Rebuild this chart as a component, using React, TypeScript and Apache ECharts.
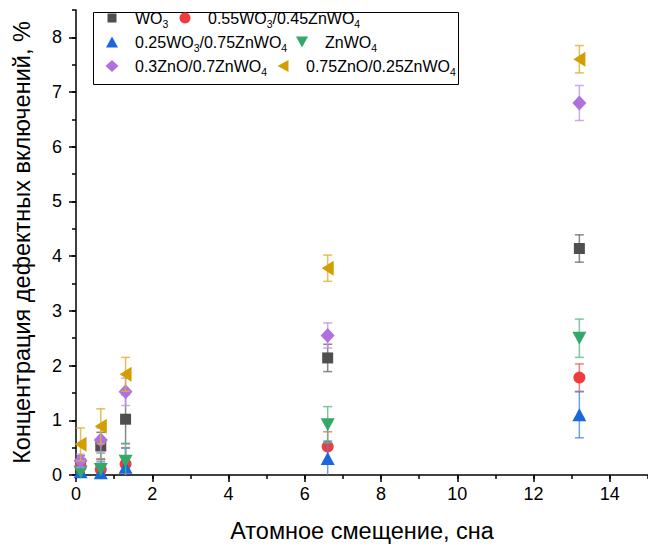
import React, { useEffect, useRef } from 'react';
import * as echarts from 'echarts';

const xValues = [0.12, 0.65, 1.3, 6.6, 13.2];
const seriesNames = ['WO3', '0.55WO3/0.45ZnWO4', '0.25WO3/0.75ZnWO4', 'ZnWO4', '0.3ZnO/0.7ZnWO4', '0.75ZnO/0.25ZnWO4'];
const wo3Y = [0.2, 0.53, 1.02, 2.14, 4.14];
const wo3Err = [0.15, 0.25, 0.45, 0.25, 0.25];
const znwo55Y = [0.15, 0.1, 0.2, 0.52, 1.78];
const znwo55Err = [0.12, 0.2, 0.3, 0.27, 0.25];
const znwo25Y = [0.06, 0.04, 0.14, 0.3, 1.1];
const znwo25Err = [0.1, 0.2, 0.35, 0.32, 0.42];
const znwo4Y = [0.05, 0.1, 0.25, 0.92, 2.5];
const znwo4Err = [0.2, 0.3, 0.33, 0.33, 0.35];
const zno3Y = [0.26, 0.64, 1.52, 2.55, 6.8];
const zno3Err = [0.12, 0.22, 0.25, 0.23, 0.32];
const zno75Y = [0.56, 0.89, 1.84, 3.78, 7.6];
const zno75Err = [0.3, 0.32, 0.31, 0.24, 0.25];
const xTickLabels = [0, 2, 4, 6, 8, 10, 12, 14];
const yTickLabels = [0, 1, 2, 3, 4, 5, 6, 7, 8];

const FONT = '"Liberation Sans", Arial, sans-serif';

const DOWN = 'path://M0,0L12,0L6,11Z';
const LEFT = 'path://M11,0L11,12L0,6Z';

const seriesDefs = [
  { name: seriesNames[0], ys: wo3Y, errs: wo3Err, color: '#4f4f4f', errColor: '#6a6a6a', symbol: 'rect', size: [11, 11], icon: 'rect', iw: 9, ih: 9 },
  { name: seriesNames[1], ys: znwo55Y, errs: znwo55Err, color: '#f03c3c', errColor: '#f06060', symbol: 'circle', size: [12, 12], icon: 'circle', iw: 11, ih: 11 },
  { name: seriesNames[2], ys: znwo25Y, errs: znwo25Err, color: '#1a67de', errColor: '#4a86e3', symbol: 'triangle', size: [14, 13], icon: 'triangle', iw: 12, ih: 11 },
  { name: seriesNames[3], ys: znwo4Y, errs: znwo4Err, color: '#34a868', errColor: '#5fb985', symbol: DOWN, size: [14, 13], icon: DOWN, iw: 12, ih: 11 },
  { name: seriesNames[4], ys: zno3Y, errs: zno3Err, color: '#b071e0', errColor: '#c293e6', symbol: 'diamond', size: [14, 15], icon: 'diamond', iw: 13, ih: 12 },
  { name: seriesNames[5], ys: zno75Y, errs: zno75Err, color: '#d39e00', errColor: '#dcb030', symbol: LEFT, size: [12, 15], icon: LEFT, iw: 11, ih: 12 },
];

// marker centre x, row centre y, text start x
const legendPos = [
  { cx: 112, cy: 21, tx: 135 },
  { cx: 185, cy: 21, tx: 208 },
  { cx: 112, cy: 45, tx: 135 },
  { cx: 302, cy: 45, tx: 325 },
  { cx: 112, cy: 69, tx: 135 },
  { cx: 283, cy: 69, tx: 306 },
];

function richName(name: string): string {
  const s = '{n|' + name.replace(/WO(\d)/g, 'WO}{s|$1}{n|') + '}';
  return s.replace(/\{n\|\}/g, '');
}

export default function App() {
  const ref = useRef<HTMLDivElement>(null);
  useEffect(() => {
    document.body.style.margin = '0';
    if (!ref.current) return;
    const chart = echarts.init(ref.current, undefined, { renderer: 'svg' });
    const series: any[] = [];
    seriesDefs.forEach((d, i) => {
      series.push({
        type: 'custom',
        name: d.name + ' error',
        xAxisIndex: 0,
        yAxisIndex: 0,
        z: 2 + i * 2,
        clip: true,
        data: xValues.map((x, j) => [x, d.ys[j], d.errs[j]]),
        encode: { x: 0, y: 1 },
        renderItem: (params: any, api: any) => {
          const x = api.value(0);
          const y = api.value(1);
          const e = api.value(2);
          const top = api.coord([x, y + e]);
          const bot = api.coord([x, y - e]);
          const hw = 4.5;
          const style = { stroke: d.errColor, lineWidth: 1.5, opacity: 0.8 };
          return {
            type: 'group',
            children: [
              { type: 'line', shape: { x1: top[0], y1: top[1], x2: bot[0], y2: bot[1] }, style },
              { type: 'line', shape: { x1: top[0] - hw, y1: top[1], x2: top[0] + hw, y2: top[1] }, style },
              { type: 'line', shape: { x1: bot[0] - hw, y1: bot[1], x2: bot[0] + hw, y2: bot[1] }, style },
            ],
          };
        },
      });
      series.push({
        type: 'scatter',
        name: d.name,
        xAxisIndex: 0,
        yAxisIndex: 0,
        z: 3 + i * 2,
        symbol: d.symbol,
        symbolSize: d.size,
        itemStyle: { color: d.color, opacity: 1 },
        data: xValues.map((x, j) => [x, d.ys[j]]),
      });
    });

    const legends = seriesDefs.map((d, i) => {
      const p = legendPos[i];
      const left = p.cx - d.iw / 2;
      const sp = p.tx - (left + d.iw + 5);
      return {
        show: true,
        data: [{ name: d.name, icon: d.icon }],
        left,
        top: p.cy - 11,
        orient: 'horizontal',
        padding: 0,
        itemGap: 0,
        itemWidth: d.iw,
        itemHeight: d.ih,
        selectedMode: false,
        formatter: (name: string) => '{sp| }' + richName(name),
        textStyle: {
          color: '#000',
          fontFamily: FONT,
          fontSize: 16,
          rich: {
            sp: { width: sp, fontSize: 16, lineHeight: 22 },
            n: { fontSize: 16, fontFamily: FONT, color: '#000', lineHeight: 22 },
            s: { fontSize: 10.5, fontFamily: FONT, color: '#000', lineHeight: 12, verticalAlign: 'bottom' },
          },
        },
      };
    });

    const axisLineStyle = { color: '#000', width: 1.5 };

    chart.setOption({
      animation: false,
      backgroundColor: '#fff',
      grid: { left: 76, top: 10, right: -2, bottom: 72, containLabel: false },
      legend: legends,
      graphic: [
        {
          type: 'rect',
          left: 91,
          top: 10,
          shape: { x: 0, y: 0, width: 365, height: 72 },
          style: { fill: 'none', stroke: '#000', lineWidth: 1 },
          z: 1,
        },
      ],
      xAxis: [
        {
          type: 'value',
          min: 0,
          max: 15,
          interval: 2,
          position: 'bottom',
          name: 'Атомное смещение, сна',
          nameLocation: 'middle',
          nameGap: 44,
          nameTextStyle: { fontSize: 23.5, color: '#000', fontFamily: FONT },
          axisLine: { show: true, onZero: false, lineStyle: axisLineStyle },
          axisTick: { show: true, length: 7, inside: false, lineStyle: axisLineStyle, customValues: xTickLabels },
          axisLabel: {
            show: true,
            margin: 10,
            fontSize: 18,
            color: '#000',
            fontFamily: FONT,
            customValues: xTickLabels,
          },
          splitLine: { show: false },
        },
        {
          type: 'value',
          min: 0,
          max: 15,
          interval: 1,
          position: 'bottom',
          axisLine: { show: false },
          axisTick: { show: true, length: 4, lineStyle: axisLineStyle },
          axisLabel: { show: false },
          splitLine: { show: false },
        },
      ],
      yAxis: [
        {
          type: 'value',
          min: 0,
          max: 8.5,
          interval: 1,
          position: 'left',
          name: 'Концентрация дефектных включений, %',
          nameLocation: 'middle',
          nameGap: 42,
          nameTextStyle: { fontSize: 23.5, color: '#000', fontFamily: FONT },
          axisLine: { show: true, onZero: false, lineStyle: axisLineStyle },
          axisTick: { show: true, length: 7, lineStyle: axisLineStyle, customValues: yTickLabels },
          axisLabel: {
            show: true,
            margin: 14,
            fontSize: 18,
            color: '#000',
            fontFamily: FONT,
            customValues: yTickLabels,
            formatter: (v: number) => (Number.isInteger(v) ? String(v) : ''),
          },
          splitLine: { show: false },
        },
        {
          type: 'value',
          min: 0,
          max: 8.5,
          interval: 0.5,
          position: 'left',
          axisLine: { show: false },
          axisTick: { show: true, length: 4, lineStyle: axisLineStyle },
          axisLabel: { show: false },
          splitLine: { show: false },
        },
      ],
      series,
    });
    return () => chart.dispose();
  }, []);
  return <div ref={ref} style={{ width: 648, height: 548 }} />;
}
